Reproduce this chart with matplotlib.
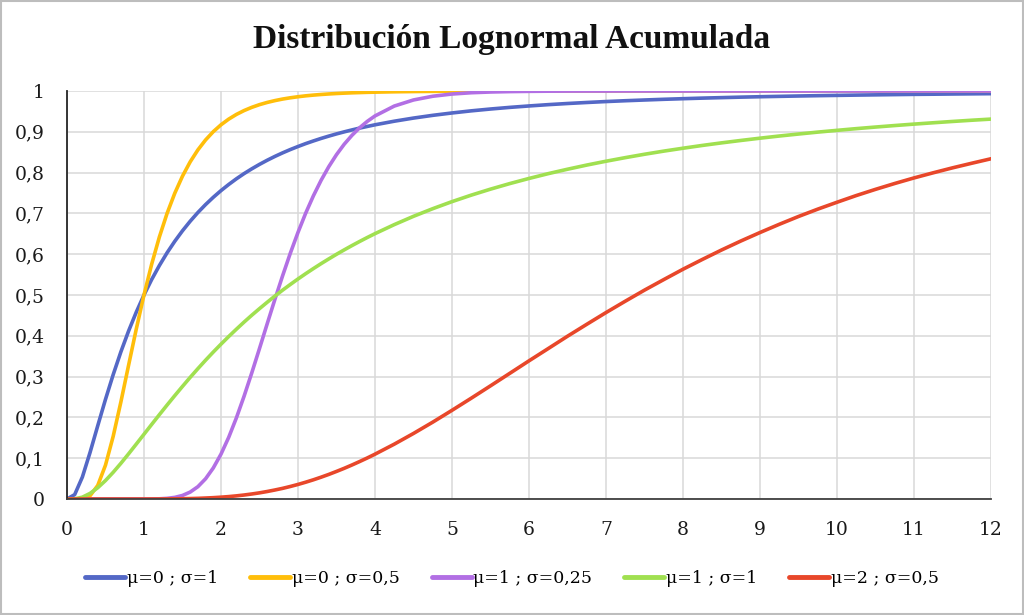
import matplotlib
matplotlib.use("Agg")
import matplotlib.pyplot as plt
from matplotlib.patches import Rectangle

x = [0, 0.1, 0.2, 0.3, 0.4, 0.5, 0.6, 0.7, 0.8, 0.9,
     1.0, 1.1, 1.2, 1.3, 1.4, 1.5, 1.6, 1.7, 1.8, 1.9,
     2.0, 2.1, 2.2, 2.3, 2.4, 2.5, 2.6, 2.7, 2.8, 2.9,
     3.0, 3.1, 3.2, 3.3, 3.4, 3.5, 3.6, 3.7, 3.8, 3.9,
     4.0, 4.25, 4.5, 4.75, 5, 5.25, 5.5, 5.75, 6, 6.25, 6.5, 6.75, 7, 7.25, 7.5, 7.75,
     8, 8.25, 8.5, 8.75, 9, 9.25, 9.5, 9.75, 10, 10.25, 10.5, 10.75, 11, 11.25, 11.5, 11.75, 12]

mu0_s1 = [0, 0.0107, 0.0538, 0.1143, 0.1798, 0.2441, 0.3047, 0.3607, 0.4117, 0.4580,
          0.5, 0.5380, 0.5723, 0.6035, 0.6317, 0.6574, 0.6808, 0.7022, 0.7217, 0.7395,
          0.7559, 0.7709, 0.7848, 0.7976, 0.8093, 0.8202, 0.8303, 0.8397, 0.8484, 0.8565,
          0.8640, 0.8711, 0.8776, 0.8838, 0.8895, 0.8949, 0.8999, 0.9046, 0.9091, 0.9132,
          0.9172, 0.9260, 0.9337, 0.9404, 0.9462, 0.9514, 0.9559, 0.9599, 0.9634, 0.9666,
          0.9694, 0.9719, 0.9742, 0.9762, 0.9780, 0.9797, 0.9812, 0.9826, 0.9838, 0.9850,
          0.9860, 0.9869, 0.9878, 0.9886, 0.9893, 0.9900, 0.9906, 0.9912, 0.9918, 0.9922,
          0.9927, 0.9931, 0.9935]

mu0_s05 = [0, 0.0000, 0.0006, 0.0080, 0.0334, 0.0829, 0.1535, 0.2378, 0.3277, 0.4166,
           0.5, 0.5756, 0.6423, 0.7001, 0.7495, 0.7913, 0.8264, 0.8557, 0.8801, 0.9004,
           0.9172, 0.9311, 0.9426, 0.9521, 0.9600, 0.9666, 0.9720, 0.9765, 0.9803, 0.9834,
           0.9860, 0.9882, 0.9900, 0.9915, 0.9928, 0.9939, 0.9948, 0.9956, 0.9962, 0.9968,
           0.9972, 0.9981, 0.9987, 0.9991, 0.9994, 0.9996, 0.9997, 0.9998, 0.9998, 0.9999,
           0.9999, 0.9999, 0.9999, 1, 1, 1, 1, 1, 1, 1, 1, 1, 1, 1, 1, 1, 1, 1, 1, 1, 1, 1, 1]

mu1_s025 = [0, 0, 0, 0, 0, 0, 0, 0, 0, 0,
            0, 0.0001, 0.0005, 0.0016, 0.0040, 0.0087, 0.0170, 0.0302, 0.0496, 0.0761,
            0.1099, 0.1510, 0.1988, 0.2520, 0.3092, 0.3688, 0.4294, 0.4892, 0.5470, 0.6022,
            0.6534, 0.7006, 0.7431, 0.7811, 0.8146, 0.8440, 0.8695, 0.8912, 0.9099, 0.9256,
            0.9389, 0.9631, 0.9781, 0.9872, 0.9926, 0.9958, 0.9976, 0.9986, 0.9992, 0.9996,
            0.9998, 0.9999, 0.9999, 1, 1, 1, 1, 1, 1, 1, 1, 1, 1, 1, 1, 1, 1, 1, 1, 1, 1, 1, 1]

mu1_s1 = [0, 0.0005, 0.0045, 0.0138, 0.0277, 0.0452, 0.0654, 0.0874, 0.1107, 0.1346,
          0.1587, 0.1828, 0.2067, 0.2303, 0.2534, 0.2760, 0.2981, 0.3195, 0.3402, 0.3602,
          0.3795, 0.3982, 0.4162, 0.4337, 0.4505, 0.4666, 0.4822, 0.4974, 0.5119, 0.5258,
          0.5393, 0.5523, 0.5648, 0.5769, 0.5885, 0.5998, 0.6106, 0.6211, 0.6312, 0.6410,
          0.6504, 0.6725, 0.6929, 0.7116, 0.7289, 0.7448, 0.7595, 0.7731, 0.7857, 0.7975,
          0.8083, 0.8185, 0.8279, 0.8367, 0.8450, 0.8527, 0.8598, 0.8666, 0.8729, 0.8788,
          0.8844, 0.8897, 0.8946, 0.8993, 0.9036, 0.9078, 0.9117, 0.9154, 0.9189, 0.9222,
          0.9254, 0.9284, 0.9312]

mu2_s05 = [0, 0, 0, 0, 0, 0, 0, 0, 0, 0,
           0, 0.0001, 0.0001, 0.0003, 0.0004, 0.0007, 0.0011, 0.0016, 0.0024, 0.0033,
           0.0045, 0.0059, 0.0077, 0.0098, 0.0123, 0.0151, 0.0184, 0.0221, 0.0261, 0.0307,
           0.0357, 0.0412, 0.0471, 0.0535, 0.0603, 0.0676, 0.0752, 0.0833, 0.0918, 0.1006,
           0.1099, 0.1344, 0.1607, 0.1884, 0.2174, 0.2471, 0.2774, 0.3080, 0.3387, 0.3688,
           0.3990, 0.4282, 0.4570, 0.4848, 0.5120, 0.5378, 0.5632, 0.5871, 0.6103, 0.6323,
           0.6532, 0.6733, 0.6925, 0.7105, 0.7274, 0.7438, 0.7590, 0.7734, 0.7870, 0.7996,
           0.8117, 0.8230, 0.8340]

labels = ["μ=0 ; σ=1", "μ=0 ; σ=0,5", "μ=1 ; σ=0,25", "μ=1 ; σ=1", "μ=2 ; σ=0,5"]
colors = ["#5468C6", "#FFBE0A", "#B26FE4", "#A0E050", "#E8472A"]
series = [mu0_s1, mu0_s05, mu1_s025, mu1_s1, mu2_s05]
xticks = list(range(0, 13))
yticks = [i / 10 for i in range(0, 11)]
yticklabels = ["0", "0,1", "0,2", "0,3", "0,4", "0,5", "0,6", "0,7", "0,8", "0,9", "1"]
title = "Distribución Lognormal Acumulada"

fig = plt.figure(figsize=(10.24, 6.15), dpi=100)
fig.patches.append(Rectangle((0.001, 0.001), 0.998, 0.997, transform=fig.transFigure,
                             fill=False, edgecolor="#BDBDBD", linewidth=1.5))
ax = fig.add_axes([0.0654, 0.1886, 0.9024, 0.6634])

for ys, c, lab in zip(series, colors, labels):
    ax.plot(x, ys, color=c, lw=2.6, label=lab, solid_capstyle="round",
            solid_joinstyle="round")

ax.set_xlim(0, 12)
ax.set_ylim(0, 1)
ax.set_xticks(xticks)
ax.set_yticks(yticks)
ax.set_yticklabels(yticklabels)
ax.grid(True, color="#D9D9D9", lw=1.1)
ax.set_axisbelow(True)
for s in ["top", "right"]:
    ax.spines[s].set_visible(False)
ax.spines["left"].set_color("#262626")
ax.spines["bottom"].set_color("#404040")
ax.spines["left"].set_linewidth(1.3)
ax.spines["bottom"].set_linewidth(1.3)
ax.tick_params(length=0, labelsize=13.5, colors="#1a1a1a")
ax.tick_params(axis="x", pad=16)
ax.tick_params(axis="y", pad=16)
for t in ax.get_xticklabels() + ax.get_yticklabels():
    t.set_family("DejaVu Serif")

fig.text(0.5, 0.935, title, ha="center", va="center", fontsize=24,
         fontweight="bold", family="Liberation Serif", color="#111111")

leg = fig.legend(loc="center", bbox_to_anchor=(0.5, 0.06), ncol=5, frameon=False,
                 prop={"family": "DejaVu Serif", "size": 12.5}, handlelength=2.3,
                 handletextpad=0.1, columnspacing=1.85)
for h in leg.get_lines():
    h.set_linewidth(3.5)

fig.savefig("out.png", dpi=100)
